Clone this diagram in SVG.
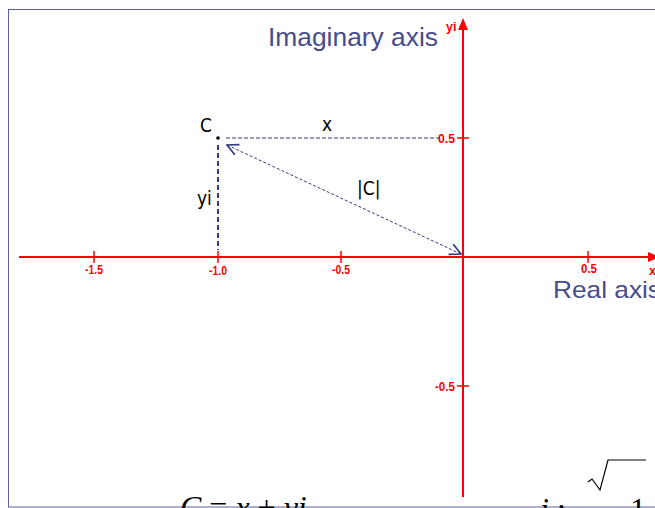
<svg xmlns="http://www.w3.org/2000/svg" width="655" height="508" viewBox="0 0 655 508">
<style>
.ax{stroke:#ff0000;stroke-width:2;fill:none}
.tick{stroke:#ff0000;stroke-width:1.5}
.tl{font-family:"Liberation Sans",sans-serif;font-size:12.5px;font-weight:bold;fill:#ff0000}
.lab{font-family:"Liberation Sans",sans-serif;fill:#474c8e}
.blk{font-family:"DejaVu Sans Condensed","Liberation Sans",sans-serif;font-size:19px;fill:#000}
.dash{stroke:#353b82;fill:none}
.math{font-family:"Liberation Serif",serif;font-size:32px;fill:#000}
</style>
<defs>
<marker id="ah" viewBox="0 0 10 10" refX="9" refY="5" markerWidth="14" markerHeight="14" markerUnits="userSpaceOnUse" orient="auto-start-reverse">
<path d="M1,1 L9,5 L1,9" fill="none" stroke="#353b82" stroke-width="1.2"/>
</marker>
</defs>
<rect x="8.5" y="9.5" width="700" height="497.5" fill="none" stroke="#5a5f9f" stroke-width="1"/>
<g id="axes">
<line class="ax" x1="19" y1="257" x2="650" y2="257"/>
<polygon points="660,257 648,252 648,262" fill="#ff0000"/>
<line class="ax" x1="463" y1="28" x2="463" y2="497"/>
<polygon points="463,18 458,30 468,30" fill="#ff0000"/>
<line class="tick" x1="94" y1="251" x2="94" y2="263"/>
<line class="tick" x1="218" y1="251" x2="218" y2="263"/>
<line class="tick" x1="341" y1="251" x2="341" y2="263"/>
<line class="tick" x1="588" y1="251" x2="588" y2="263"/>
<line class="tick" x1="457" y1="138" x2="469" y2="138"/>
<line class="tick" x1="457" y1="386" x2="469" y2="386"/>
<text class="tl" x="94" y="274" text-anchor="middle" textLength="18" lengthAdjust="spacingAndGlyphs">-1.5</text>
<text class="tl" x="218" y="275" text-anchor="middle" textLength="18" lengthAdjust="spacingAndGlyphs">-1.0</text>
<text class="tl" x="341" y="274" text-anchor="middle" textLength="18" lengthAdjust="spacingAndGlyphs">-0.5</text>
<text class="tl" x="589" y="273" text-anchor="middle" textLength="16" lengthAdjust="spacingAndGlyphs">0.5</text>
<text class="tl" x="455" y="143" text-anchor="end" textLength="17" lengthAdjust="spacingAndGlyphs">0.5</text>
<text class="tl" x="455" y="391" text-anchor="end" textLength="20" lengthAdjust="spacingAndGlyphs">-0.5</text>
<text class="tl" x="446" y="31" font-size="11">yi</text>
<text class="tl" x="649" y="275" font-size="11">x</text>
</g>
<g id="labels">
<text class="lab" x="268" y="46" font-size="25" textLength="170" lengthAdjust="spacingAndGlyphs">Imaginary axis</text>
<text class="lab" x="553" y="298" font-size="24" textLength="108" lengthAdjust="spacingAndGlyphs">Real axis</text>
</g>
<g id="pointC">
<circle cx="218" cy="138" r="1.8" fill="#000"/>
<text class="blk" x="200" y="132">C</text>
</g>
<g id="connectors">
<line class="dash" x1="226" y1="138" x2="440" y2="138" stroke-width="1" stroke-dasharray="4,2"/>
<line class="dash" x1="218" y1="145" x2="218" y2="250" stroke-width="2" stroke-dasharray="5,3"/>
<line class="dash" x1="227" y1="145" x2="461" y2="254" stroke-width="1" stroke-dasharray="3,2" marker-start="url(#ah)" marker-end="url(#ah)"/>
</g>
<g id="edgeLabels">
<text class="blk" x="322" y="131">x</text>
<text class="blk" x="197" y="205">yi</text>
<text class="blk" x="357" y="195">|C|</text>
</g>
<g id="formula">
<text class="math" x="180" y="518"><tspan font-style="italic">C</tspan> = <tspan font-style="italic">x</tspan> + <tspan font-style="italic">yi</tspan></text>
<text class="math" x="540" y="520"><tspan font-style="italic">i</tspan> :</text>
<polyline points="588,482 592,479 600,490 608,460 646,460" fill="none" stroke="#000" stroke-width="1.2"/>
<text class="math" x="612" y="520">−1</text>
</g>
</svg>
